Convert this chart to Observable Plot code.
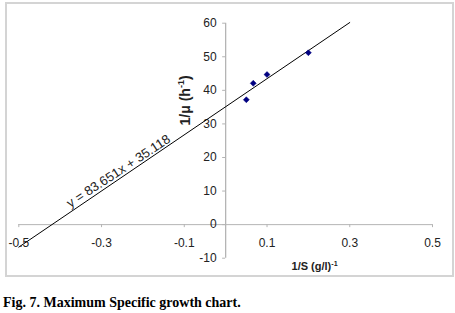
<!DOCTYPE html>
<html><head><meta charset="utf-8">
<script src="https://cdn.jsdelivr.net/npm/d3@7"></script>
<script src="https://cdn.jsdelivr.net/npm/@observablehq/plot@0.6"></script>
<style>
body{margin:0;background:#fff;}
#wrap{position:relative;width:455px;height:313px;overflow:hidden;background:#fff;}
#chart{position:absolute;left:0;top:0;}
#border{position:absolute;left:5px;top:2px;width:445px;height:271px;border:2px solid #d4d4d4;pointer-events:none;}
#cap{position:absolute;left:3px;top:295px;font:bold 14px "Liberation Serif","Times New Roman",serif;line-height:16px;color:#000;white-space:nowrap;}
</style></head><body>
<div id="wrap"><div id="chart"></div><div id="border"></div><div id="cap">Fig. 7. Maximum Specific growth chart.</div></div>
<script>
// Data
const invS = [0.05, 0.0667, 0.1, 0.2];          // 1/S (g/l)^-1
const invMu = [37.2, 42.1, 44.7, 51.2];          // 1/mu (h^-1)
const trendX = [-0.5, 0.3];                      // trendline ends
const trendY = [-6.7, 60.2];
const xTicks = [-0.5, -0.3, -0.1, 0.1, 0.3, 0.5];
const xTickLabels = ["-0.5", "-0.3", "-0.1", "0.1", "0.3", "0.5"];
const yTicks = [-10, 0, 10, 20, 30, 40, 50, 60];
const yTickLabels = ["-10", "0", "10", "20", "30", "40", "50", "60"];
const equation = "y = 83.651x + 35.118";
const xTitle = ["1/S (g/l)", "-1"];   // base text, superscript
const yTitle = ["1/\u03BC (h", "-1", ")"];

const points = invS.map((x, i) => ({x, y: invMu[i]}));
const trend = trendX.map((x, i) => ({x, y: trendY[i]}));
const xt = xTicks.map((v, i) => ({v, label: xTickLabels[i]}));
const yt = yTicks.map((v, i) => ({v, label: yTickLabels[i]}));

const axisColor = "#b4b4b4";
const textColor = "#222";

const chart = Plot.plot({
  width: 455,
  height: 285,
  marginLeft: 18.3,
  marginRight: 23,
  marginTop: 22.7,
  marginBottom: 27.3,
  style: {background: "transparent", overflow: "visible", fontFamily: "'Liberation Sans', Arial, sans-serif"},
  x: {domain: [-0.5, 0.5], axis: null},
  y: {domain: [-10, 60], axis: null},
  marks: [
    Plot.ruleY([0], {x1: -0.5, x2: 0.5, stroke: axisColor, strokeWidth: 1}),
    Plot.ruleX(xt, {x: "v", y1: 0, y2: 0, insetBottom: -3, stroke: axisColor}),
    Plot.ruleX([0], {y1: -10, y2: 60, stroke: axisColor, strokeWidth: 1.3}),
    Plot.ruleY(yt, {y: "v", x1: 0, x2: 0, insetLeft: -3, stroke: axisColor}),
    Plot.text(xt, {x: "v", y: 0, text: "label", dy: 19, fontSize: 12, fill: textColor}),
    Plot.text(yt, {x: 0, y: "v", text: "label", dx: -9, textAnchor: "end", fontSize: 12, fill: textColor}),
    Plot.line(trend, {x: "x", y: "y", stroke: "#000", strokeWidth: 1}),
    Plot.dot(points, {x: "x", y: "y", symbol: "diamond2", r: 2.7, fill: "#000080", stroke: "#000080", strokeWidth: 0.5}),
    Plot.text([equation], {x: -0.259, y: 15.9, text: d => d, rotate: -33.4, fontSize: 13, fill: textColor}),
    Plot.text([yTitle.join("")], {x: -0.097, y: 37, text: d => d, rotate: -90, fontSize: 14, fontWeight: "bold", fill: textColor, className: "ytitle"}),
    Plot.text([xTitle.join("")], {x: 0.215, y: -10, text: d => d, dy: 8.5, fontSize: 11, fontWeight: "bold", fill: textColor, className: "xtitle"})
  ]
});

// superscripts as tspans
function superscript(sel, parts, size) {
  sel.each(function() {
    const t = d3.select(this);
    t.text(null);
    t.append("tspan").text(parts[0]);
    t.append("tspan").attr("dy", -size * 0.4).attr("font-size", size * 0.65).text(parts[1]);
    if (parts[2]) t.append("tspan").attr("dy", size * 0.4).text(parts[2]);
  });
}
superscript(d3.select(chart).selectAll(".ytitle text"), yTitle, 14);
superscript(d3.select(chart).selectAll(".xtitle text"), xTitle, 11);

document.getElementById("chart").appendChild(chart);
</script>
</body></html>
